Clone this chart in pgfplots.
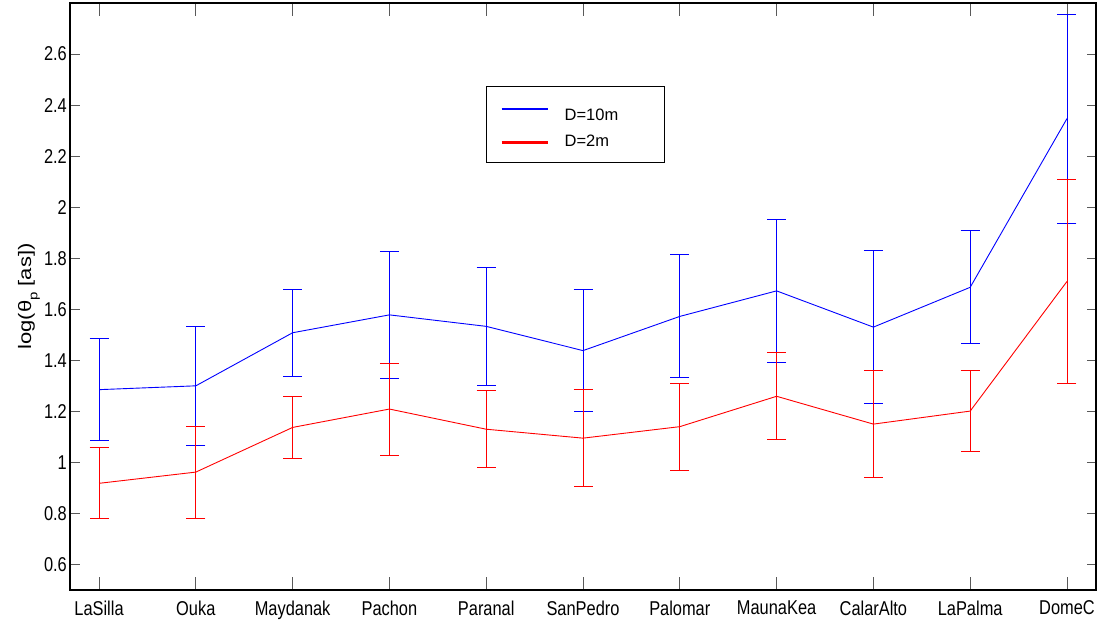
\documentclass[border=0pt]{standalone}
\usepackage{pgfplots}
\usepackage{pgfplotstable}
\pgfplotsset{compat=1.18}
\usepackage{fontspec}
\setmainfont[FakeStretch=0.82]{Liberation Sans}
\newfontfamily\labelfont{Liberation Sans}

% site, log theta_p and half-width of the error bar
\pgfplotstableread{
x y e
0 1.285 0.200
1 1.300 0.232
2 1.508 0.170
3 1.578 0.250
4 1.533 0.231
5 1.438 0.240
6 1.572 0.241
7 1.672 0.280
8 1.530 0.301
9 1.686 0.221
10 2.347 0.410
}\dtenm
\pgfplotstableread{
x y e
0 0.918 0.139
1 0.962 0.180
2 1.137 0.120
3 1.209 0.180
4 1.130 0.150
5 1.095 0.190
6 1.140 0.170
7 1.259 0.170
8 1.150 0.210
9 1.201 0.160
10 1.709 0.400
}\dtwom

\begin{document}
\begin{tikzpicture}
\useasboundingbox (0,0) rectangle (1102pt,627pt);
\begin{axis}[
  at={(70pt,37pt)}, anchor=south west,
  scale only axis, width=1026pt, height=587pt,
  xmin=-0.3, xmax=10.3, ymin=0.5, ymax=2.8,
  xtick={0,...,10},
  xticklabels={LaSilla,Ouka,Maydanak,Pachon,Paranal,SanPedro,Palomar,MaunaKea,CalarAlto,LaPalma,DomeC},
  ytick={0.6,0.8,...,2.61},
  tick align=inside, tick pos=both,
  x tick style={black!65, line width=0.9pt, /pgfplots/major tick length=13pt},
  y tick style={black!65, line width=0.9pt, /pgfplots/major tick length=9.5pt},
  axis line style={line width=1.4pt},
  tick label style={font=\fontsize{20}{24}\selectfont},
  /pgf/number format/assume math mode=true,
  yticklabel style={/pgf/number format/fixed, /pgf/number format/precision=1, inner sep=0pt, xshift=-3pt},
  xticklabel style={inner sep=0pt, yshift=-10.5pt},
  ylabel={\scalebox{1}[0.82]{\labelfont\fontsize{22}{26}\selectfont log(θ\raisebox{-0.35em}{\fontsize{15}{18}\selectfont p} [as])}},
  ylabel style={at={(axis description cs:-0.040,0.5)}, anchor=center},
  legend style={at={(axis description cs:0.405,0.859)}, anchor=north west,
    draw=black, line width=1pt, font=\labelfont\fontsize{16.5}{20}\selectfont,
    inner xsep=14.3pt, inner ysep=16pt, row sep=8.4pt, column sep=15.7pt,
    nodes={inner sep=0pt, text height=17.8pt, text depth=0pt},
    /tikz/every even column/.append style={text width=85.7pt}},
  legend cell align=left,
]
% D = 10 m
\addplot[blue, mark=none, line width=0.9pt,
  legend image code/.code={\draw[blue, line width=2.6pt] (0pt,2.3pt) -- (46pt,2.3pt);},
  error bars/.cd, y dir=both, y explicit, error mark=|,
  error bar style={draw=blue, line width=0.9pt},
  error mark options={draw=blue, mark size=9.5pt, line width=0.9pt}]
  table[x=x, y=y, y error=e] {\dtenm};
\addlegendentry{D=10m}
% D = 2 m
\addplot[red, mark=none, line width=0.9pt,
  legend image code/.code={\draw[red, line width=2.6pt] (0pt,-5.3pt) -- (46pt,-5.3pt);},
  error bars/.cd, y dir=both, y explicit, error mark=|,
  error bar style={draw=red, line width=0.9pt},
  error mark options={draw=red, mark size=9.5pt, line width=0.9pt}]
  table[x=x, y=y, y error=e] {\dtwom};
\addlegendentry{D=2m}
\end{axis}
\end{tikzpicture}
\end{document}
